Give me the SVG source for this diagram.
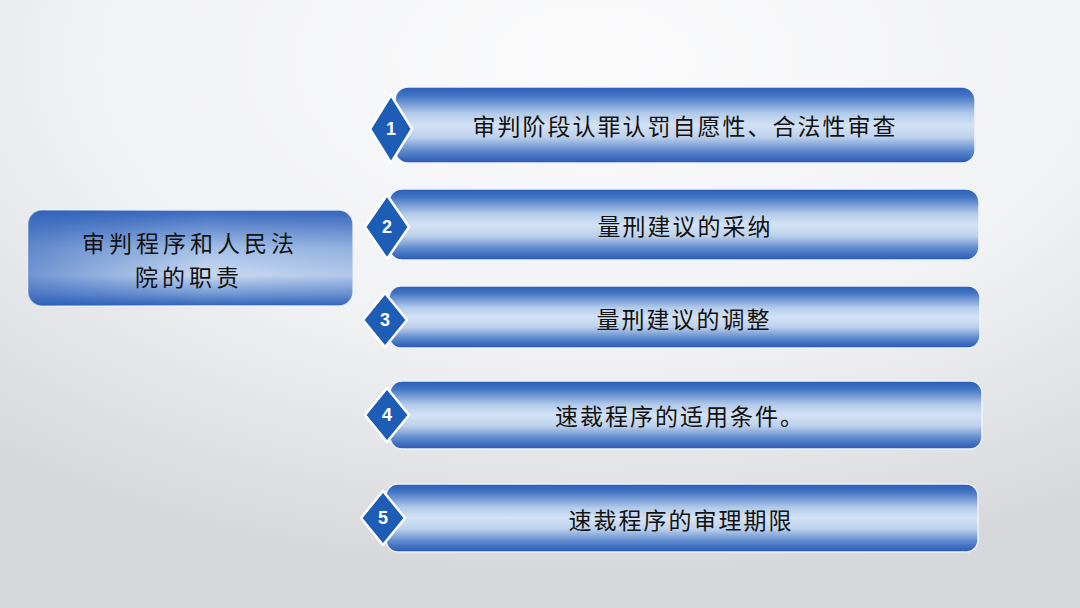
<svg xmlns="http://www.w3.org/2000/svg" width="1080" height="608" viewBox="0 0 1080 608">
  <defs>
    <radialGradient id="bg" cx="0.55" cy="0.1" r="0.85">
      <stop offset="0" stop-color="#fbfbfc"/>
      <stop offset="0.55" stop-color="#f1f2f4"/>
      <stop offset="1" stop-color="#d6d8db"/>
    </radialGradient>
    <linearGradient id="bar" x1="0" y1="0" x2="0" y2="1">
      <stop offset="0" stop-color="#2a5cb6"/>
      <stop offset="0.12" stop-color="#4475c4"/>
      <stop offset="0.35" stop-color="#b3cbea"/>
      <stop offset="0.5" stop-color="#d3e2f5"/>
      <stop offset="0.66" stop-color="#bdd1ec"/>
      <stop offset="0.84" stop-color="#5d89cd"/>
      <stop offset="1" stop-color="#2858b3"/>
    </linearGradient>
    <linearGradient id="boxv" x1="0" y1="0" x2="0" y2="1">
      <stop offset="0" stop-color="#3767bd"/>
      <stop offset="0.4" stop-color="#a5c0e6"/>
      <stop offset="0.68" stop-color="#c9daf1"/>
      <stop offset="0.88" stop-color="#7097d3"/>
      <stop offset="1" stop-color="#3163bb"/>
    </linearGradient>
    <linearGradient id="boxh" x1="0" y1="0" x2="1" y2="0">
      <stop offset="0" stop-color="#2a5cb6" stop-opacity="0.55"/>
      <stop offset="0.55" stop-color="#2a5cb6" stop-opacity="0"/>
      <stop offset="1" stop-color="#2a5cb6" stop-opacity="0.15"/>
    </linearGradient>
    <style>
      .bar { fill: url(#bar); stroke: #eef3fa; stroke-width: 1.5; }
      .dia { fill: #1d5db6; stroke: #ffffff; stroke-width: 2.5; stroke-linejoin: round; }
      .num { font-family: "Liberation Sans", "Noto Sans", sans-serif; font-weight: bold; font-size: 18px; fill: #ffffff; text-anchor: middle; dominant-baseline: central; }
      .lbl { font-family: "Noto Sans CJK SC", "Noto Sans CJK TC", sans-serif; font-size: 23px; fill: #111111; text-anchor: middle; dominant-baseline: central; letter-spacing: 2px; }
      .main { font-family: "Noto Sans CJK SC", "Noto Sans CJK TC", sans-serif; font-size: 23px; fill: #111111; text-anchor: middle; dominant-baseline: central; letter-spacing: 4px; }
    </style>
  </defs>
  <rect x="0" y="0" width="1080" height="608" fill="url(#bg)"/>

  <g id="connectors"/>

  <g id="root">
    <rect x="28" y="210" width="325" height="96" rx="14" fill="url(#boxv)" stroke="#eef3fa" stroke-width="1.5"/>
    <rect x="28" y="210" width="325" height="96" rx="14" fill="url(#boxh)"/>
    <text class="main" x="190" y="242">审判程序和人民法</text>
    <text class="main" x="189" y="276">院的职责</text>
  </g>

  <g id="item1">
    <rect class="bar" x="395" y="87" width="580" height="76" rx="13"/>
    <polygon class="dia" points="391,95 412,129 391,163 370,129"/>
    <text class="num" x="391" y="129">1</text>
    <text class="lbl" x="685" y="125">审判阶段认罪认罚自愿性、合法性审查</text>
  </g>

  <g id="item2">
    <rect class="bar" x="389" y="189" width="590" height="71" rx="13"/>
    <polygon class="dia" points="387,195 409,227 387,259 365,227"/>
    <text class="num" x="387" y="227">2</text>
    <text class="lbl" x="685" y="225">量刑建议的采纳</text>
  </g>

  <g id="item3">
    <rect class="bar" x="389" y="286" width="591" height="62" rx="12"/>
    <polygon class="dia" points="385,293 407,320 385,347 363,320"/>
    <text class="num" x="385" y="320">3</text>
    <text class="lbl" x="684" y="318">量刑建议的调整</text>
  </g>

  <g id="item4">
    <rect class="bar" x="390" y="381" width="592" height="68" rx="12"/>
    <polygon class="dia" points="387,388 409,415 387,442 365,415"/>
    <text class="num" x="387" y="415">4</text>
    <text class="lbl" x="680" y="415">速裁程序的适用条件。</text>
  </g>

  <g id="item5">
    <rect class="bar" x="386" y="484" width="592" height="68" rx="12"/>
    <polygon class="dia" points="383,491 405,518 383,545 361,518"/>
    <text class="num" x="383" y="518">5</text>
    <text class="lbl" x="681" y="519">速裁程序的审理期限</text>
  </g>
</svg>
